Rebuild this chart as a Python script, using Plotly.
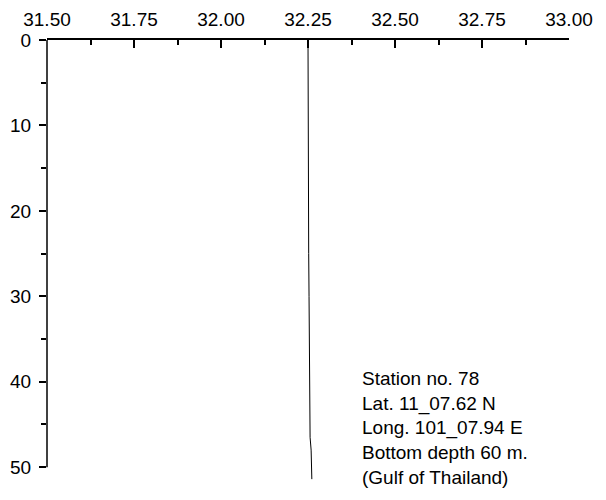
import plotly.graph_objects as go

# Salinity profile (x) vs depth (y)
depth = [0, 5, 10, 15, 20, 25, 30, 35, 40, 45, 46.5, 48, 50, 51.4]
salinity = [32.250, 32.250, 32.251, 32.251, 32.252, 32.252, 32.253, 32.254,
            32.255, 32.255, 32.256, 32.259, 32.260, 32.261]

x_ticks = [31.50, 31.75, 32.00, 32.25, 32.50, 32.75, 33.00]
x_tick_labels = ["31.50", "31.75", "32.00", "32.25", "32.50", "32.75", "33.00"]
y_ticks = [0, 10, 20, 30, 40, 50]
y_tick_labels = ["0", "10", "20", "30", "40", "50"]

info_lines = ["Station no. 78", "Lat. 11_07.62 N", "Long. 101_07.94 E",
              "Bottom depth 60 m.", "(Gulf of Thailand)"]

FONT = "Liberation Sans, Arial, sans-serif"

fig = go.Figure()
fig.add_trace(go.Scatter(x=salinity, y=depth, mode="lines",
                         line=dict(color="black", width=1),
                         showlegend=False, hoverinfo="skip"))

fig.update_layout(
    width=606, height=500,
    margin=dict(l=47, r=37, t=40, b=20, autoexpand=False),
    paper_bgcolor="white", plot_bgcolor="white",
    font=dict(family=FONT, size=19, color="black"),
    xaxis=dict(
        side="top", range=[31.5, 33.0], automargin=False,
        tickvals=x_ticks, ticktext=x_tick_labels,
        ticks="inside", ticklen=8, tickwidth=1.5, tickcolor="black",
        showline=True, linecolor="black", linewidth=1.5,
        showgrid=False, zeroline=False,
        ticklabelstandoff=5,
        minor=dict(dtick=0.125, tick0=31.5, ticks="inside", ticklen=5,
                   tickwidth=1.5, tickcolor="black", showgrid=False),
    ),
    yaxis=dict(
        range=[51.5, 0], automargin=False,
        tickvals=y_ticks, ticktext=y_tick_labels,
        ticks="outside", ticklen=7, tickwidth=1.5, tickcolor="black",
        showline=False, showgrid=False, zeroline=False,
        ticklabelstandoff=4,
        minor=dict(tickvals=[5, 15, 25, 35, 45], ticks="outside", ticklen=5,
                   tickwidth=1.5, tickcolor="black", showgrid=False),
    ),
)

# left axis line only from 0 to 50
fig.add_shape(type="line", xref="paper", yref="y", x0=0, x1=0,
              y0=y_ticks[0], y1=y_ticks[-1],
              line=dict(color="black", width=1.5))

fig.add_annotation(
    text="<br>".join(info_lines),
    xref="x", yref="y", x=32.398, y=38.2,
    xanchor="left", yanchor="top", align="left", showarrow=False,
    font=dict(family=FONT, size=19, color="black"),
)

fig.write_html(
    "out.html",
    config={"displayModeBar": False},
    post_script="document.body.style.margin='0';document.body.style.overflow='hidden';",
)
